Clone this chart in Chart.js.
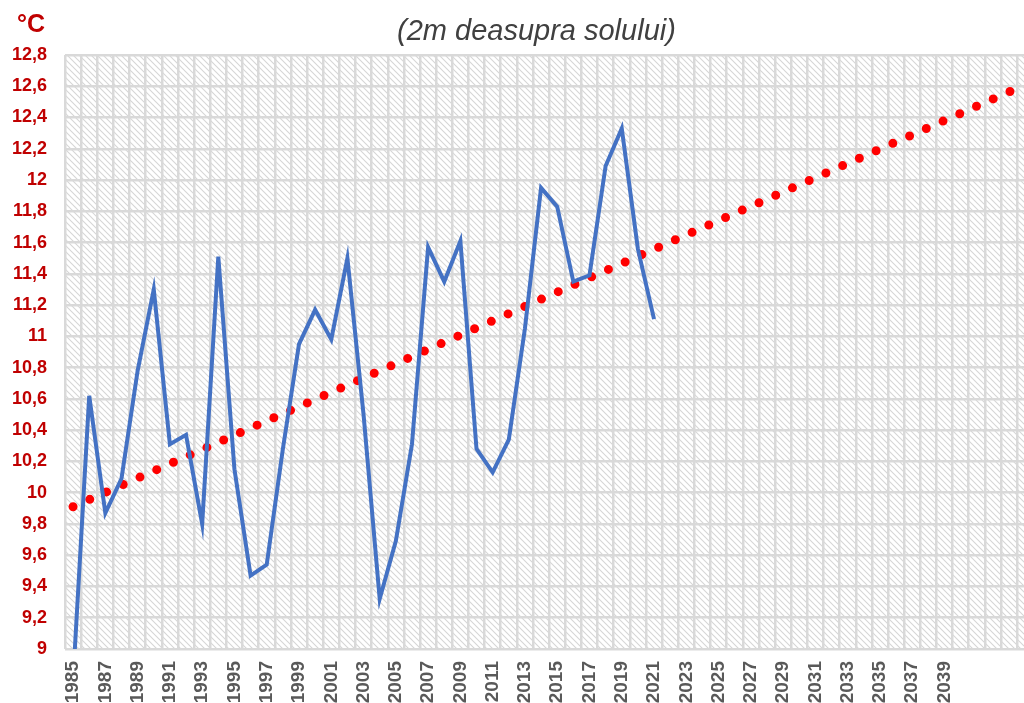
<!DOCTYPE html>
<html>
<head>
<meta charset="utf-8">
<script src="https://cdn.jsdelivr.net/npm/chart.js@4.4.1/dist/chart.umd.min.js"></script>
<style>
    html, body { margin: 0; padding: 0; background: #fff; overflow: hidden; }
    #wrap { position: relative; width: 1024px; height: 703px; overflow: hidden; }
    #chart-box { position: absolute; left: 0; top: 0; width: 1060px; height: 703px; }
    .subtitle {
        position: absolute; left: 397px; top: 13px;
        font: italic 29px "Liberation Sans", Arial, sans-serif; color: #404040;
        white-space: nowrap; line-height: 34px;
    }
    .unit {
        position: absolute; left: 17px; top: 8px;
        font: bold 25px "Liberation Sans", Arial, sans-serif; color: #c00000;
        line-height: 30px;
    }
</style>
</head>
<body>
<div id="wrap">
    <div id="chart-box"><canvas id="temp-chart"></canvas></div>
    <div class="subtitle">(2m deasupra solului)</div>
    <div class="unit">°C</div>
</div>
<script>
// categorii (ani) - axa continua dupa 2039 pentru linia de trend
const years = [
    1985, 1986, 1987, 1988, 1989, 1990, 1991, 1992, 1993, 1994,
    1995, 1996, 1997, 1998, 1999, 2000, 2001, 2002, 2003, 2004,
    2005, 2006, 2007, 2008, 2009, 2010, 2011, 2012, 2013, 2014,
    2015, 2016, 2017, 2018, 2019, 2020, 2021, 2022, 2023, 2024,
    2025, 2026, 2027, 2028, 2029, 2030, 2031, 2032, 2033, 2034,
    2035, 2036, 2037, 2038, 2039, 2040, 2041, 2042, 2043, 2044
];
const lastLabelYear = 2039;

// temperatura medie anuala 1985-2021
const tempValues = [
    8.80, 10.62, 9.87, 10.09, 10.78, 11.30, 10.31, 10.37, 9.80, 11.51,
    10.15, 9.47, 9.54, 10.28, 10.95, 11.17, 10.98, 11.50, 10.50, 9.32,
    9.69, 10.31, 11.57, 11.35, 11.61, 10.28, 10.13, 10.34, 11.05, 11.95,
    11.83, 11.35, 11.39, 12.09, 12.33, 11.56, 11.11
];

// trend liniar (capete)
const trendYears = [1985, 2044];
const trendValues = [9.91, 12.61];

const yMin = 9;
const yMax = 12.8;
const yStep = 0.2;

// fundal hasurat
const hatchPlugin = {
    id: 'hatch',
    beforeDraw(chart) {
        const { ctx, chartArea } = chart;
        const p = document.createElement('canvas');
        p.width = 6; p.height = 6;
        const pc = p.getContext('2d');
        pc.strokeStyle = '#d6d6d6';
        pc.lineWidth = 1.1;
        pc.beginPath();
        pc.moveTo(0, 0); pc.lineTo(6, 6);
        pc.moveTo(-3, 3); pc.lineTo(3, 9);
        pc.moveTo(3, -3); pc.lineTo(9, 3);
        pc.stroke();
        ctx.save();
        ctx.fillStyle = '#fff';
        ctx.fillRect(0, 0, chart.width, chart.height);
        ctx.fillStyle = ctx.createPattern(p, 'repeat');
        ctx.fillRect(chartArea.left, chartArea.top, chartArea.right - chartArea.left, chartArea.bottom - chartArea.top);
        ctx.restore();
    }
};

const ctx = document.getElementById('temp-chart');
new Chart(ctx, {
    type: 'line',
    data: {
        labels: years.map(String),
        datasets: [
            {
                label: 'Temperatura',
                data: tempValues,
                borderColor: '#4472C4',
                borderWidth: 4,
                pointRadius: 0,
                tension: 0,
                borderJoinStyle: 'miter',
                order: 1
            },
            {
                label: 'Trend',
                data: trendYears.map((y, i) => ({ x: String(y), y: trendValues[i] })),
                borderColor: '#FF0000',
                borderWidth: 9,
                borderDash: [0, 18.3],
                borderCapStyle: 'round',
                pointRadius: 0,
                order: 2
            }
        ]
    },
    options: {
        responsive: true,
        maintainAspectRatio: false,
        animation: false,
        events: [],
        layout: { padding: { top: 55, left: 0, right: 0, bottom: 0 } },
        plugins: {
            legend: { display: false },
            tooltip: { enabled: false }
        },
        scales: {
            x: {
                offset: true,
                grid: { color: '#d9d9d9', lineWidth: 2.5, drawTicks: false, offset: true },
                border: { display: false },
                afterFit: scale => { scale.height = 54; },
                ticks: {
                    autoSkip: false,
                    maxRotation: 90,
                    minRotation: 90,
                    padding: 12,
                    color: '#595959',
                    font: { family: 'Liberation Sans', size: 19, weight: 'bold' },
                    callback: function (val, i) {
                        const yr = years[i];
                        return (i % 2 === 0 && yr <= lastLabelYear) ? String(yr) : '';
                    }
                }
            },
            y: {
                min: yMin,
                max: yMax,
                grid: { color: '#d9d9d9', lineWidth: 2.5, drawTicks: false },
                border: { display: false },
                afterFit: scale => { scale.width = 65; },
                ticks: {
                    stepSize: yStep,
                    padding: 18,
                    color: '#c00000',
                    font: { family: 'Liberation Sans', size: 18, weight: 'bold' },
                    callback: v => String(Math.round(v * 10) / 10).replace('.', ',')
                }
            }
        }
    },
    plugins: [hatchPlugin]
});
</script>
</body>
</html>
